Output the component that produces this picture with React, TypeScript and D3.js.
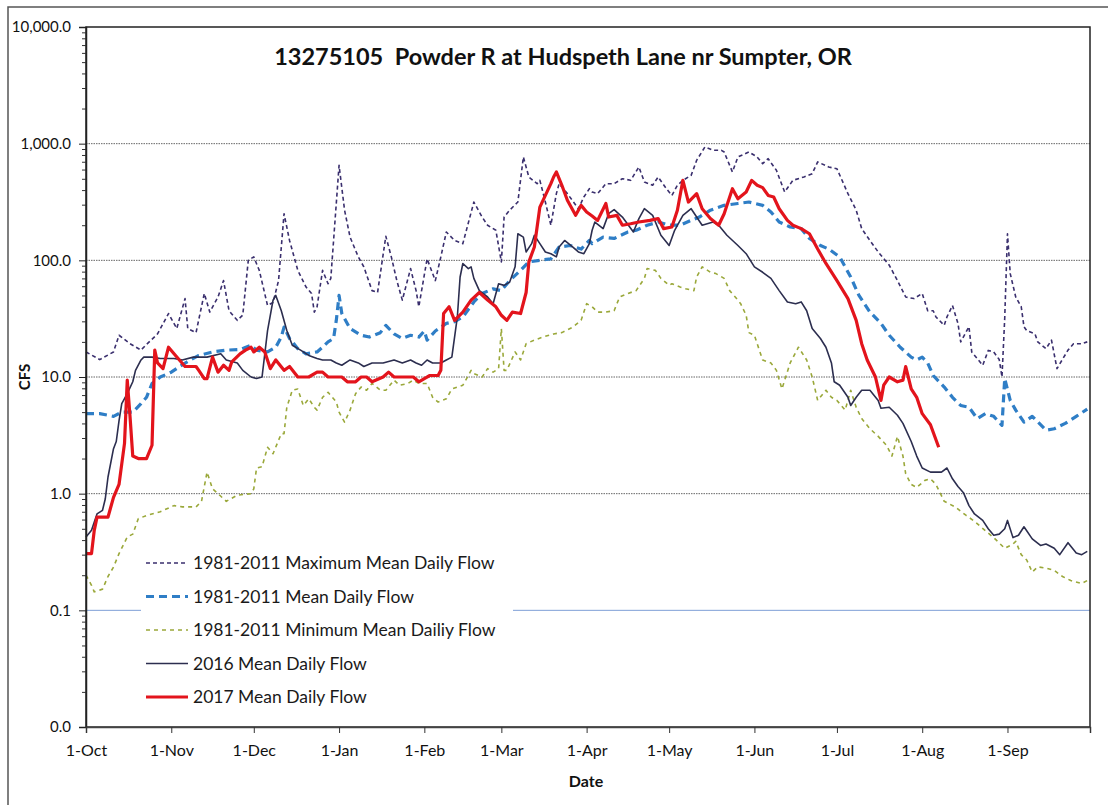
import React, { useRef, useEffect } from 'react';
import * as d3 from 'd3';

// water year 2016-2017, x values are days after 1-Oct
const startDate = new Date(2016, 9, 1);
const endDate = new Date(2017, 9, 1);

const yTicks = [0.01, 0.1, 1, 10, 100, 1000, 10000];

const seriesNames = [
  '1981-2011 Maximum Mean Daily Flow',
  '1981-2011 Mean Daily Flow',
  '1981-2011 Minimum Mean Dailiy Flow',
  '2016 Mean Daily Flow',
  '2017 Mean Daily Flow',
];

const maxFlow: [number, number][] = [
  [0, 16.4], [5, 14.1], [10, 16.4], [12, 22.8], [16, 19.3], [20, 17], [22, 19], [26, 23.4], [30, 35], [33, 26],
  [36, 47], [37, 26], [40, 24], [43, 52], [45, 36], [48, 48.5], [50, 67], [52, 37], [55, 30.6], [57, 34],
  [59, 100], [61, 107], [63, 82], [66, 41], [68, 43.5], [70, 67], [72, 251], [74, 148], [77, 82], [80, 59],
  [82, 52], [83, 36], [84, 40], [86, 82], [88, 63], [89, 70], [92, 652], [94, 269], [96, 158], [99, 107],
  [101, 88], [104, 55], [106, 53], [109, 161], [111, 107], [113, 67], [115, 45.6], [118, 85], [120, 55], [121, 40],
  [124, 103], [127, 67], [129, 107], [131, 175], [134, 148], [137, 139], [141, 316], [144, 235], [146, 200], [149, 181],
  [151, 97], [152, 235], [154, 269], [157, 316], [159, 769], [161, 518], [164, 454], [165, 485], [167, 316], [169, 200],
  [171, 373], [172, 454], [175, 373], [179, 277], [181, 349], [183, 411], [184, 385], [186, 373], [189, 454], [192, 454],
  [195, 501], [198, 485], [201, 631], [203, 470], [206, 440], [208, 518], [211, 411], [213, 360], [215, 440], [217, 485],
  [220, 535], [222, 720], [225, 936], [228, 877], [231, 877], [232, 848], [235, 572], [237, 769], [241, 848], [244, 769],
  [246, 674], [248, 743], [251, 591], [254, 385], [257, 485], [261, 518], [264, 553], [266, 697], [270, 631], [273, 610],
  [277, 373], [280, 269], [282, 187], [285, 148], [288, 118], [292, 91], [295, 67], [298, 48.5], [301, 47], [304, 52],
  [306, 37], [308, 37], [309, 32.7], [312, 27.7], [313, 32.7], [315, 41], [317, 28.8], [318, 20], [321, 27], [322, 16.4],
  [326, 12.6], [328, 16.9], [330, 16.4], [332, 14.1], [333, 10], [334, 32], [335, 169], [336, 77], [338, 48.5], [340, 40],
  [341, 27], [342, 25], [345, 23.4], [346, 20], [349, 17.5], [351, 20.7], [353, 11.8], [357, 17], [359, 19.3], [362, 19.3],
  [364, 20],
];

const meanFlow: [number, number][] = [
  [0, 4.85], [5, 4.85], [10, 4.6], [13, 5], [17, 5], [20, 5.9], [22, 6.7], [24, 8.8], [27, 10], [31, 11],
  [34, 12.3], [38, 14], [41, 15.3], [46, 16.4], [51, 17], [56, 17.2], [60, 18.7], [62, 17], [66, 16.4], [69, 18],
  [71, 22], [72, 26.8], [74, 21.4], [77, 17.5], [80, 15.8], [84, 16.4], [86, 18], [88, 20], [90, 21.4], [91, 30.6],
  [92, 50], [93, 35], [96, 26], [100, 22.8], [103, 22], [107, 24], [109, 27.7], [112, 23.4], [115, 21.4], [118, 22.8],
  [121, 22], [123, 24.8], [124, 20.7], [127, 24.8], [131, 28.8], [134, 29.8], [137, 32.7], [141, 44], [144, 52], [148, 57],
  [151, 55], [154, 67], [158, 82], [161, 97], [165, 100], [169, 103], [172, 130], [176, 134], [180, 125], [183, 148],
  [184, 139], [188, 158], [192, 154], [197, 175], [200, 181], [204, 200], [208, 213], [212, 200], [216, 200], [220, 220],
  [223, 235], [227, 269], [232, 296], [237, 307], [241, 316], [246, 296], [249, 260], [252, 213], [256, 193], [260, 187],
  [263, 154], [267, 134], [270, 125], [274, 107], [278, 72], [281, 50], [285, 36], [289, 28.8], [292, 22.8], [296, 18],
  [300, 14.8], [302, 14], [304, 14.8], [306, 13.2], [308, 10.3], [312, 8.2], [315, 6.7], [318, 5.7], [321, 5.5], [324, 4.4],
  [327, 4.85], [330, 4.6], [333, 3.85], [334, 9.7], [336, 6.3], [338, 5.2], [341, 4.1], [344, 4.6], [349, 3.5], [352, 3.6],
  [356, 4], [360, 4.6], [364, 5.3],
];

const minFlow: [number, number][] = [
  [0, 0.2], [2, 0.164], [3, 0.144], [6, 0.152], [8, 0.195], [10, 0.235], [12, 0.306], [15, 0.425], [17, 0.45], [19, 0.61],
  [22, 0.65], [27, 0.7], [32, 0.79], [35, 0.77], [40, 0.77], [42, 0.86], [44, 1.53], [46, 1.1], [48, 1.0], [51, 0.86],
  [55, 0.97], [60, 1.0], [61, 1.1], [62, 1.66], [64, 1.7], [66, 2.5], [68, 2.2], [71, 3.27], [72, 3.27], [73, 5.5],
  [75, 7.7], [77, 7.9], [79, 5.7], [81, 6.5], [83, 5.5], [84, 5.2], [86, 6.7], [88, 7.4], [91, 6.1], [92, 5.0],
  [94, 4.1], [96, 5.2], [98, 7.2], [100, 8.2], [102, 7.7], [104, 8.8], [107, 7.7], [109, 7.7], [112, 9.4], [114, 8.5],
  [117, 8.8], [119, 9.4], [121, 8.8], [124, 8.8], [126, 6.7], [128, 6.1], [131, 6.5], [133, 7.9], [137, 8.5], [140, 11.4],
  [141, 10.7], [144, 10], [146, 11.8], [148, 11], [150, 11.8], [151, 26], [152, 11.4], [153, 11.4], [156, 16.4], [158, 14],
  [160, 19.3], [163, 20.7], [166, 22], [170, 23.4], [173, 24], [177, 26.8], [180, 30.6], [182, 42.5], [184, 40], [186, 36],
  [189, 36], [192, 37], [194, 48.5], [197, 52], [200, 55], [203, 70], [204, 85], [207, 82], [209, 70], [212, 61],
  [213, 63], [216, 59], [218, 57], [221, 55], [222, 72], [224, 88], [227, 79], [229, 77], [232, 70], [234, 55],
  [237, 45.6], [238, 42.5], [240, 33.8], [241, 24], [243, 22.8], [244, 19.3], [246, 14], [249, 13.2], [251, 11.4], [253, 7.9],
  [256, 13.2], [259, 18], [262, 14], [264, 10], [266, 6.3], [269, 7.7], [271, 6.7], [273, 6.3], [276, 5.2], [278, 7.7],
  [280, 5.5], [282, 4.4], [285, 3.6], [288, 3.1], [291, 2.6], [293, 2.1], [295, 3.1], [297, 2.1], [298, 1.48], [300, 1.2],
  [302, 1.13], [305, 1.3], [307, 1.34], [309, 1.2], [312, 0.86], [316, 0.77], [320, 0.65], [323, 0.58], [327, 0.48], [330, 0.42],
  [334, 0.34], [337, 0.37], [338, 0.39], [340, 0.3], [342, 0.27], [344, 0.213], [346, 0.236], [349, 0.23], [352, 0.22], [355, 0.195],
  [358, 0.18], [362, 0.17], [364, 0.18],
];

const flow2016: [number, number][] = [
  [0, 0.425], [2, 0.485], [4, 0.67], [6, 0.72], [7, 0.9], [8, 1.39], [10, 2.43], [11, 2.8], [12, 4.2], [13, 5.9],
  [15, 7.2], [17, 9.1], [18, 11.4], [20, 14], [21, 14.8], [24, 14.8], [27, 14.4], [32, 14.4], [35, 14], [39, 14.8],
  [44, 14.8], [49, 15.8], [51, 14], [55, 13.2], [57, 11.4], [60, 10], [62, 9.7], [64, 10], [66, 25], [68, 45.5],
  [69, 50], [71, 37], [73, 25], [75, 18.7], [78, 17], [81, 15.3], [84, 14.4], [86, 14], [89, 14], [91, 13.2],
  [93, 12.6], [96, 14], [99, 13.2], [101, 12.3], [104, 13.2], [108, 13.2], [112, 14], [115, 13.2], [118, 14], [120, 13.2],
  [122, 12.6], [124, 14], [126, 13.2], [129, 13.2], [131, 14], [133, 14.8], [135, 32.7], [136, 72], [137, 94], [139, 85],
  [140, 88], [141, 70], [143, 55], [146, 48.5], [148, 42.5], [150, 63], [152, 61], [154, 65], [156, 88], [157, 169],
  [159, 158], [160, 118], [162, 139], [163, 164], [165, 139], [167, 118], [169, 114], [171, 107], [172, 130], [174, 148],
  [177, 130], [179, 118], [181, 114], [183, 139], [184, 181], [185, 213], [188, 187], [190, 251], [192, 272], [195, 235],
  [199, 175], [201, 228], [203, 277], [206, 243], [209, 164], [212, 134], [214, 181], [217, 243], [220, 277], [222, 235],
  [224, 200], [228, 213], [230, 200], [233, 164], [237, 134], [240, 114], [243, 88], [246, 79], [249, 70], [252, 55],
  [255, 44], [258, 42.5], [260, 44], [262, 37], [264, 26], [267, 21.4], [269, 18], [271, 13.2], [272, 9.1], [274, 8.5],
  [277, 6.7], [278, 5.7], [280, 6.7], [282, 7.7], [285, 7.7], [288, 6.3], [289, 5.4], [292, 5.5], [295, 4.7], [297, 4.0],
  [300, 2.8], [302, 2.1], [304, 1.66], [307, 1.53], [311, 1.53], [313, 1.66], [315, 1.34], [317, 1.15], [319, 1.02], [321, 0.79],
  [323, 0.67], [326, 0.59], [328, 0.5], [330, 0.44], [332, 0.45], [334, 0.5], [335, 0.59], [337, 0.42], [339, 0.44], [341, 0.52],
  [344, 0.41], [347, 0.36], [349, 0.37], [352, 0.34], [354, 0.3], [357, 0.38], [360, 0.31], [362, 0.3], [364, 0.32],
];

const flow2017: [number, number][] = [
  [0, 0.306], [2, 0.306], [3, 0.485], [4, 0.63], [8, 0.63], [10, 0.93], [12, 1.2], [13, 1.8], [14, 2.7], [15, 9.4],
  [16, 4.6], [17, 2.1], [19, 2.0], [22, 2.0], [24, 2.6], [25, 17], [26, 13.2], [28, 11.8], [30, 18], [32, 15.8],
  [36, 12.3], [40, 12.3], [41, 11.4], [43, 9.7], [44, 9.7], [46, 14.8], [48, 11], [50, 12.6], [52, 11.4], [53, 13.5],
  [56, 15.8], [58, 17], [60, 18], [61, 16.4], [63, 18], [65, 16.4], [67, 11.8], [69, 14], [72, 11.4], [74, 12.3],
  [77, 10], [81, 10], [84, 11], [86, 11], [88, 10], [93, 10], [95, 9.1], [98, 9.1], [100, 10], [102, 10],
  [104, 9.1], [108, 10], [110, 11], [112, 10], [119, 10], [121, 9.1], [123, 9.7], [125, 10.3], [128, 10.3], [129, 11.4],
  [130, 35], [132, 40], [134, 30.6], [137, 36], [140, 45.6], [143, 53], [146, 45.6], [149, 40], [151, 33.8], [153, 30.6],
  [155, 36], [158, 35], [160, 53], [161, 97], [163, 130], [165, 286], [167, 360], [169, 454], [170, 518], [171, 572],
  [173, 440], [175, 327], [178, 243], [180, 296], [182, 260], [184, 240], [186, 220], [189, 307], [190, 235], [193, 243],
  [195, 200], [198, 206], [201, 213], [205, 220], [208, 228], [210, 187], [213, 193], [215, 269], [217, 485], [219, 316],
  [222, 373], [224, 277], [227, 228], [230, 200], [232, 251], [235, 411], [237, 337], [240, 385], [242, 485], [244, 440],
  [246, 420], [248, 360], [250, 349], [252, 277], [255, 220], [257, 200], [260, 187], [263, 169], [266, 125], [269, 94],
  [273, 67], [277, 47], [280, 30.6], [282, 19.3], [284, 14], [287, 10], [289, 6.3], [290, 8.5], [292, 10], [295, 9.1],
  [297, 9.4], [298, 12.3], [300, 7.9], [302, 6.7], [304, 4.85], [307, 3.9], [309, 2.9], [310, 2.5],
];

const seriesData = [maxFlow, meanFlow, minFlow, flow2016, flow2017];

const seriesStyles = [
  { color: '#3a2f6e', width: 1.6, dash: '4,3' },
  { color: '#2f7ec6', width: 3.2, dash: '8,5' },
  { color: '#9aa83a', width: 1.6, dash: '4,4' },
  { color: '#2c2e4f', width: 1.6, dash: null },
  { color: '#e3141c', width: 3.2, dash: null },
];

const FONT = 'Lato, "Open Sans", sans-serif';

const App = () => {
  const svgRef = useRef<SVGSVGElement>(null);

  useEffect(() => {
    const width = 1108;
    const height = 805;
    const margin = { left: 86, right: 18, top: 27, bottom: 78 };

    const svg = d3.select(svgRef.current)
      .attr('width', width)
      .attr('height', height)
      .style('background', '#fff');
    svg.selectAll('*').remove();

    const x = d3.scaleTime()
      .domain([startDate, endDate])
      .range([margin.left, width - margin.right]);
    const y = d3.scaleLog()
      .domain([0.01, 10000])
      .range([height - margin.bottom, margin.top]);

    const dayToDate = (d: number) => d3.timeDay.offset(startDate, d);

    // outer frame of the picture
    svg.append('rect')
      .attr('x', 8).attr('y', 7)
      .attr('width', width).attr('height', height)
      .attr('fill', 'none')
      .attr('stroke', '#555')
      .attr('stroke-width', 1.5);

    // gridlines
    svg.append('g')
      .selectAll('line')
      .data(yTicks.slice(1, -1))
      .join('line')
        .attr('x1', margin.left).attr('x2', width - margin.right)
        .attr('y1', d => y(d)).attr('y2', d => y(d))
        .attr('stroke', d => d === 0.1 ? '#7f9fd6' : '#666')
        .attr('stroke-width', 1)
        .attr('stroke-dasharray', d => d === 0.1 ? null : '1.5,1');

    // title
    svg.append('text')
      .attr('x', 563).attr('y', 65)
      .attr('text-anchor', 'middle')
      .style('white-space', 'pre')
      .style('font-family', FONT)
      .style('font-weight', 'bold')
      .style('font-size', '23.5px')
      .attr('fill', '#111')
      .text('13275105  Powder R at Hudspeth Lane nr Sumpter, OR');

    // lines
    const line = d3.line<[number, number]>()
      .x(d => x(dayToDate(d[0])))
      .y(d => y(d[1]));

    svg.append('g')
      .selectAll('path')
      .data(seriesData)
      .join('path')
        .attr('d', d => line(d))
        .attr('fill', 'none')
        .attr('stroke', (d, i) => seriesStyles[i].color)
        .attr('stroke-width', (d, i) => seriesStyles[i].width)
        .attr('stroke-dasharray', (d, i) => seriesStyles[i].dash)
        .attr('stroke-linejoin', 'round');

    // plot frame
    svg.append('rect')
      .attr('x', margin.left).attr('y', margin.top)
      .attr('width', width - margin.left - margin.right)
      .attr('height', height - margin.top - margin.bottom)
      .attr('fill', 'none')
      .attr('stroke', '#222')
      .attr('stroke-width', 1.5);

    // y axis with minor log ticks
    const minor: number[] = [];
    for (let p = -2; p < 4; p++) {
      for (let m = 2; m < 10; m++) minor.push(m * Math.pow(10, p));
    }
    svg.append('g')
      .attr('transform', `translate(${margin.left},0)`)
      .call(d3.axisLeft(y).tickValues(minor).tickSize(4).tickFormat(() => ''))
      .call(g => g.select('.domain').remove())
      .call(g => g.selectAll('line').attr('stroke', '#333'));

    const yAxis = svg.append('g')
      .attr('transform', `translate(${margin.left},0)`)
      .call(d3.axisLeft(y)
        .tickValues(yTicks)
        .tickSize(7)
        .tickPadding(8)
        .tickFormat(d => (d as number) === 0.01 ? '0.0' : d3.format(',.1f')(d as number)));
    yAxis.select('.domain').attr('stroke', '#222').attr('stroke-width', 1.5);
    yAxis.selectAll('line').attr('stroke', '#222');
    yAxis.selectAll('text')
      .style('font-family', FONT)
      .style('font-size', '15px')
      .attr('fill', '#111');

    // x axis
    const months = d3.timeMonth.range(startDate, d3.timeDay.offset(endDate, 1));
    const xAxis = svg.append('g')
      .attr('transform', `translate(0,${height - margin.bottom})`)
      .call(d3.axisBottom(x)
        .tickValues(months)
        .tickSize(6)
        .tickPadding(12)
        .tickFormat((d, i) => i === months.length - 1 ? '' : d3.timeFormat('%-d-%b')(d as Date)));
    xAxis.select('.domain').attr('stroke', '#444').attr('stroke-width', 1.5);
    xAxis.selectAll('line').attr('stroke', '#333');
    xAxis.selectAll('text')
      .style('font-family', FONT)
      .style('font-size', '16px')
      .attr('fill', '#111');

    // axis titles
    svg.append('text')
      .attr('transform', `translate(30,${y(10)}) rotate(-90)`)
      .attr('text-anchor', 'middle')
      .style('font-family', FONT)
      .style('font-weight', 'bold')
      .style('font-size', '15px')
      .attr('fill', '#111')
      .text('CFS');

    svg.append('text')
      .attr('x', 586).attr('y', 787)
      .attr('text-anchor', 'middle')
      .style('font-family', FONT)
      .style('font-weight', 'bold')
      .style('font-size', '16px')
      .attr('fill', '#111')
      .text('Date');

    // legend
    const legend = svg.append('g');
    legend.append('rect')
      .attr('x', 141).attr('y', 545)
      .attr('width', 372).attr('height', 168)
      .attr('fill', '#fff');

    const item = legend.selectAll('g.item')
      .data(seriesNames)
      .join('g')
        .attr('class', 'item')
        .attr('transform', (d, i) => `translate(146,${563 + i * 33.5})`);
    item.append('line')
      .attr('x1', 0).attr('x2', 42)
      .attr('stroke', (d, i) => seriesStyles[i].color)
      .attr('stroke-width', (d, i) => seriesStyles[i].width)
      .attr('stroke-dasharray', (d, i) => seriesStyles[i].dash);
    item.append('text')
      .attr('x', 47).attr('dy', '0.35em')
      .style('font-family', FONT)
      .style('font-size', '17.5px')
      .attr('fill', '#1a1a1a')
      .text(d => d);
  }, []);

  return (
    <div style={{ position: 'absolute', left: 0, top: 0 }}>
      <svg ref={svgRef}></svg>
    </div>
  );
};

export default App;
